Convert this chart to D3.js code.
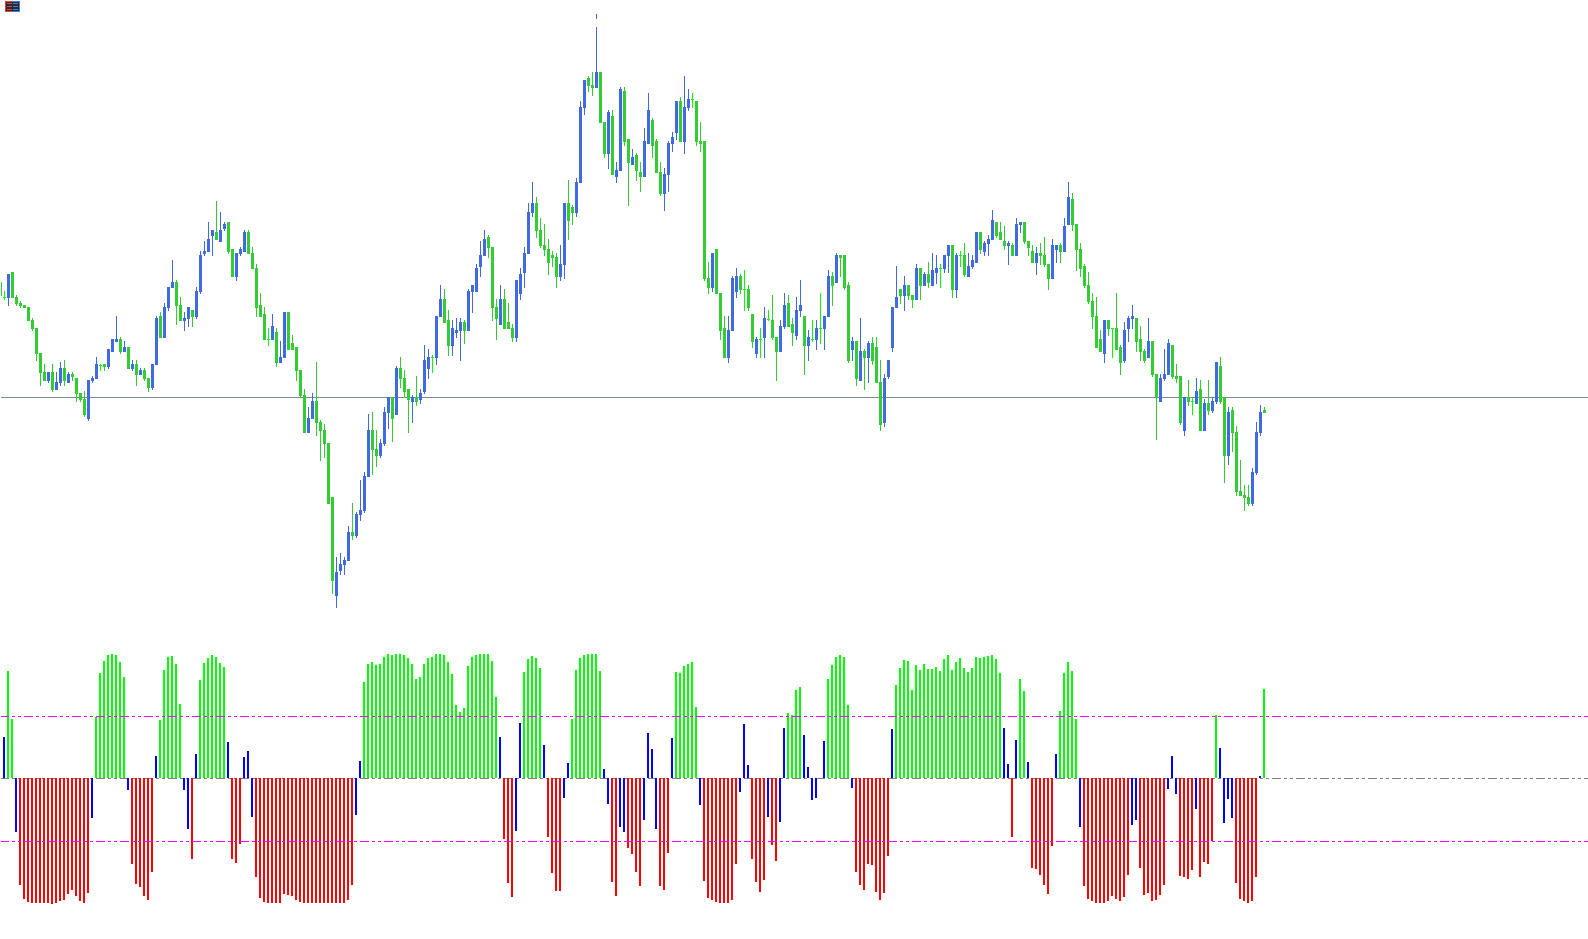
<!DOCTYPE html>
<html>
<head>
<meta charset="utf-8">
<script src="https://cdnjs.cloudflare.com/ajax/libs/d3/7.8.5/d3.min.js"></script>
<style>
  html, body { margin: 0; padding: 0; background: #fff; overflow: hidden; }
  svg { display: block; }
</style>
</head>
<body>
<svg width="1588" height="939"></svg>
<script>
var opens = [
  718,703,702,728,703,697,695,693,680,672,
  647,628,619,628,610,617,632,617,626,622,
  607,601,581,619,621,635,636,633,648,658,
  661,648,653,631,636,625,630,622,612,635,
  684,662,692,712,718,695,679,681,690,683,
  708,746,748,764,768,758,771,778,751,723,
  746,748,768,747,732,695,686,661,660,668,
  637,642,688,657,653,630,605,567,581,599,
  578,570,557,503,404,429,435,439,468,464,
  485,489,523,570,551,544,556,587,603,585,
  632,622,611,598,603,600,608,631,643,642,
  683,701,680,654,667,669,678,669,708,708,
  733,744,763,753,693,675,701,678,672,662,
  706,727,746,787,797,770,755,751,745,743,
  723,735,797,793,787,817,892,922,915,912,
  928,878,846,884,823,829,909,861,835,845,
  828,823,856,880,859,828,806,825,856,867,
  899,858,892,901,899,859,859,722,712,751,
  707,672,642,669,708,724,711,711,686,646,
  661,662,681,680,663,648,673,697,676,664,
  689,684,654,661,660,672,671,683,724,717,
  745,745,715,650,659,619,649,642,657,653,
  618,577,623,652,692,711,704,715,705,700,
  732,714,726,714,727,732,731,744,755,710,
  745,745,723,733,737,768,748,756,760,778,
  768,759,754,755,744,775,778,759,749,737,
  747,745,736,721,750,755,748,775,801,776,
  751,734,715,699,684,661,646,680,672,672,
  653,639,671,681,682,661,649,642,659,626,
  598,621,625,655,624,624,569,603,599,596,
  611,569,597,589,598,634,603,544,590,568,
  509,505,503,496,527,567,590
];
var highs = [
  718,709,726,728,705,699,695,693,682,672,
  647,636,628,636,628,638,640,628,628,622,
  607,609,620,624,643,636,636,651,661,684,
  663,659,653,640,640,632,632,622,636,684,
  688,697,713,740,720,703,688,693,690,713,
  749,759,778,770,799,788,778,778,751,747,
  753,770,770,753,736,707,693,672,686,672,
  659,688,688,665,653,630,611,593,607,638,
  580,576,557,503,443,447,443,474,497,488,
  520,528,586,588,570,561,593,603,603,634,
  643,630,611,605,624,611,655,651,645,684,
  715,711,690,680,682,682,680,711,715,736,
  759,770,765,753,701,715,711,697,676,720,
  732,753,797,818,803,782,776,761,749,747,
  755,797,820,795,822,899,920,924,928,986,
  928,878,890,890,838,913,913,861,851,847,
  838,872,907,882,861,838,832,859,868,899,
  903,924,911,907,899,878,859,738,747,751,
  707,684,684,724,732,726,730,715,686,663,
  672,693,690,705,663,680,707,705,682,703,
  720,684,670,680,680,707,684,730,728,747,
  745,745,718,663,659,682,651,659,663,663,
  640,626,640,693,734,711,724,715,705,736,
  732,728,738,747,745,736,745,755,755,747,
  749,757,747,745,768,768,759,765,790,778,
  778,774,759,757,782,778,778,759,755,753,
  757,763,736,761,755,757,782,818,807,776,
  757,736,728,707,703,670,680,680,672,707,
  655,678,684,695,682,674,651,682,659,626,
  626,651,661,655,636,624,603,620,603,622,
  620,601,620,603,638,643,603,593,593,574,
  540,515,515,532,578,595,593
];
var lows = [
  704,700,694,702,694,692,692,679,669,639,
  614,619,617,608,610,614,614,617,619,598,
  598,583,579,617,621,629,629,631,648,658,
  646,648,631,629,614,625,619,608,610,635,
  662,662,689,712,675,679,669,673,673,681,
  706,744,748,744,760,758,769,746,723,719,
  744,748,746,731,683,683,660,654,660,633,
  637,642,650,650,619,602,567,567,581,564,
  539,542,496,406,392,425,425,439,460,462,
  479,487,523,525,533,542,554,571,558,585,
  612,602,567,577,594,596,606,621,627,635,
  683,677,644,644,662,639,656,669,687,708,
  723,744,742,679,660,675,671,671,658,658,
  700,712,746,783,762,752,744,725,733,712,
  719,721,760,775,783,817,885,908,904,912,
  877,842,831,825,817,829,854,794,835,819,
  808,823,856,842,827,804,789,808,848,860,
  858,846,889,892,854,848,719,706,708,706,
  660,642,637,669,702,706,689,689,652,642,
  642,642,679,660,619,648,671,673,654,660,
  683,625,639,658,650,656,650,683,694,717,
  723,710,637,639,614,619,610,617,635,617,
  569,573,621,648,692,696,689,700,692,700,
  700,714,712,714,716,712,727,727,702,702,
  733,723,723,731,737,746,744,744,760,762,
  760,750,735,744,744,767,756,744,737,725,
  735,733,710,721,737,737,748,775,769,729,
  723,712,696,671,652,648,637,664,642,650,
  625,637,658,671,648,639,637,642,623,560,
  598,619,625,621,617,575,564,594,585,596,
  569,569,585,587,596,596,517,535,548,504,
  504,489,494,494,525,564,587
];
var closes = [
  704,703,726,702,696,694,692,679,671,646,
  627,619,628,610,618,632,619,626,623,606,
  600,585,620,622,636,635,633,651,661,661,
  648,653,631,636,625,630,621,612,636,682,
  662,693,713,718,694,679,682,693,683,709,
  745,749,761,770,760,770,776,748,723,747,
  751,768,746,731,692,683,660,661,674,637,
  643,688,650,650,629,604,567,582,599,577,
  569,556,496,419,428,436,440,468,464,486,
  490,524,570,550,544,557,588,603,581,632,
  621,608,600,603,598,607,640,643,643,684,
  701,677,654,672,670,678,669,709,715,732,
  745,761,752,692,681,701,671,671,662,720,
  726,747,788,797,769,754,750,737,742,723,
  736,797,779,787,818,893,920,914,912,928,
  877,846,888,825,830,911,858,837,843,829,
  823,859,890,854,827,806,826,857,863,899,
  858,893,901,901,858,856,721,712,747,706,
  669,642,670,722,724,710,711,692,658,661,
  661,682,681,662,648,674,695,673,667,690,
  695,654,663,661,672,672,684,724,714,745,
  742,712,639,659,621,649,642,657,639,617,
  575,622,640,693,703,704,715,704,700,732,
  714,726,717,730,732,732,745,755,710,745,
  745,725,734,740,768,750,757,761,780,764,
  760,754,757,744,776,778,758,752,737,747,
  744,735,721,755,755,748,774,803,775,750,
  731,714,698,683,652,648,680,671,672,650,
  637,670,682,684,658,648,639,659,625,602,
  622,626,657,623,621,577,603,598,599,609,
  569,597,589,599,638,598,544,588,567,508,
  504,502,496,528,568,588,587
];
var oscillator = [
  0,124,322,178,-161,-320,-362,-371,-374,-374,
  -374,-374,-374,-377,-374,-368,-365,-347,-335,-353,
  -368,-374,-344,-119,184,316,352,370,373,370,
  349,304,-35,-257,-317,-326,-353,-365,-281,67,
  175,325,364,367,343,223,-35,-152,-242,73,
  295,346,361,370,364,346,334,109,-242,-254,
  -197,64,82,-116,-296,-359,-371,-374,-374,-374,
  -374,-347,-350,-353,-365,-371,-374,-374,-374,-374,
  -374,-374,-374,-374,-374,-374,-374,-365,-320,-110,
  52,289,343,349,340,343,364,373,370,373,
  373,370,361,343,298,304,343,361,364,373,
  373,370,349,313,220,199,211,337,364,370,
  373,373,373,352,244,124,-182,-314,-356,-158,
  166,319,358,367,361,331,100,-176,-284,-338,
  -338,-59,46,178,325,361,370,373,373,373,
  322,28,-77,-311,-353,-146,-161,-209,-227,-281,
  -323,-125,136,88,-152,-323,-335,-224,121,319,
  316,337,343,349,214,-80,-308,-359,-365,-371,
  -374,-374,-374,-365,-257,-41,163,40,-242,-311,
  -341,-305,-116,-200,-248,-131,151,196,190,265,
  274,130,34,-65,-59,0,112,298,340,364,
  370,364,220,-29,-281,-320,-335,-257,-260,-341,
  -365,-344,-233,148,280,331,355,352,265,340,
  325,343,328,328,334,322,358,370,325,349,
  361,331,319,331,364,361,364,367,370,358,
  316,151,43,-176,115,298,262,49,-269,-272,
  -290,-320,-347,-203,73,202,316,349,322,178,
  -146,-323,-362,-368,-374,-374,-374,-368,-353,-362,
  -368,-356,-290,-140,-125,-269,-350,-344,-368,-365,
  -350,-320,-32,67,-47,-293,-296,-302,-275,-92,
  -296,-251,-257,-188,190,91,-134,-62,-119,-314,
  -362,-368,-374,-368,-296,7,268
];
var priceLine = 603;
var oscLevels = [187.5, -187.5];
var oscZero = 0;
var oscTrigger = 170;
// the tallest wick is broken by a small blank near its top
var brokenBar = 149, brokenFrom = 981, brokenTo = 973;

var upColor = "#4169e1", downColor = "#32cd32", dojiColor = "#00ff00";

var svg = d3.select("svg"),
    width = +svg.attr("width"),
    height = +svg.attr("height");

svg.append("defs").append("clipPath").attr("id", "plot")
  .append("rect").attr("x", 1).attr("y", 0).attr("width", width - 1).attr("height", height);

var x = d3.scaleLinear().domain([0, 1]).range([0, 4]);
var y = d3.scaleLinear().domain([1000, 61]).range([0, 939]);
var yOsc = d3.scaleLinear().domain([374, -374]).range([653.67, 903]);

var candles = opens.map(function(o, i) {
  return { i: i, o: o, h: highs[i], l: lows[i], c: closes[i] };
});

function candleColor(d) {
  if (d.o === d.c) return dojiColor;
  return d.c > d.o ? upColor : downColor;
}

var chart = svg.append("g").attr("clip-path", "url(#plot)").attr("shape-rendering", "crispEdges");

chart.append("line")
  .attr("x1", 0).attr("x2", width)
  .attr("y1", y(priceLine) + 0.5).attr("y2", y(priceLine) + 0.5)
  .attr("stroke", "#778899");

var bars = chart.append("g").selectAll("g")
  .data(candles)
  .enter().append("g")
  .attr("fill", candleColor);

bars.append("rect")
  .attr("x", function(d) { return x(d.i); })
  .attr("width", 1)
  .attr("y", function(d) { return y(d.h); })
  .attr("height", function(d) { return y(d.l) - y(d.h); });

bars.append("rect")
  .attr("x", function(d) { return x(d.i) - 1; })
  .attr("width", 3)
  .attr("y", function(d) { return y(Math.max(d.o, d.c)); })
  .attr("height", function(d) { return Math.max(1, Math.abs(y(d.o) - y(d.c))); });

chart.append("rect")
  .attr("x", x(brokenBar))
  .attr("width", 1)
  .attr("y", y(brokenFrom))
  .attr("height", y(brokenTo) - y(brokenFrom))
  .attr("fill", "#fff");

function oscColor(v) {
  if (v >= oscTrigger) return "#00ff00";
  if (v <= -oscTrigger) return "#ff0000";
  return "#0000ff";
}

var zeroRow = Math.round(yOsc(oscZero));

function levelLine(v, color) {
  var row = Math.round(yOsc(v)) + 0.5;
  chart.append("line")
    .attr("x1", 0).attr("x2", width)
    .attr("y1", row).attr("y2", row)
    .attr("stroke", color)
    .attr("stroke-dasharray", "9 3 3 3 3 3");
}

levelLine(oscZero, "#808080");

chart.append("g").selectAll("rect")
  .data(oscillator)
  .enter().append("rect")
  .attr("x", function(d, i) { return x(i) - 1; })
  .attr("width", 2)
  .attr("y", function(d) { return d >= 0 ? Math.round(yOsc(d)) : zeroRow; })
  .attr("height", function(d) {
    return d >= 0 ? zeroRow - Math.round(yOsc(d)) : Math.round(yOsc(d)) - zeroRow;
  })
  .attr("fill", oscColor);

oscLevels.forEach(function(v) { levelLine(v, "#ff00ff"); });

// small menu badge in the corner
var badge = svg.append("g").attr("shape-rendering", "crispEdges");
badge.append("rect").attr("x", 5).attr("y", 1).attr("width", 15).attr("height", 11).attr("fill", "#2a2a2e");
badge.append("rect").attr("x", 5).attr("y", 1).attr("width", 1).attr("height", 11).attr("fill", "#e0483c");
badge.append("rect").attr("x", 5).attr("y", 1).attr("width", 7).attr("height", 1).attr("fill", "#e0483c");
badge.append("rect").attr("x", 5).attr("y", 11).attr("width", 7).attr("height", 1).attr("fill", "#e0483c");
badge.append("rect").attr("x", 19).attr("y", 1).attr("width", 1).attr("height", 11).attr("fill", "#3c82e6");
badge.append("rect").attr("x", 12).attr("y", 1).attr("width", 7).attr("height", 1).attr("fill", "#3c82e6");
badge.append("rect").attr("x", 12).attr("y", 11).attr("width", 7).attr("height", 1).attr("fill", "#3c82e6");
[3, 6, 9].forEach(function(row) {
  badge.append("rect").attr("x", 7).attr("y", row).attr("width", 5).attr("height", 1).attr("fill", "#e0483c");
  badge.append("rect").attr("x", 13).attr("y", row).attr("width", 5).attr("height", 1).attr("fill", "#3c82e6");
});
</script>
</body>
</html>
